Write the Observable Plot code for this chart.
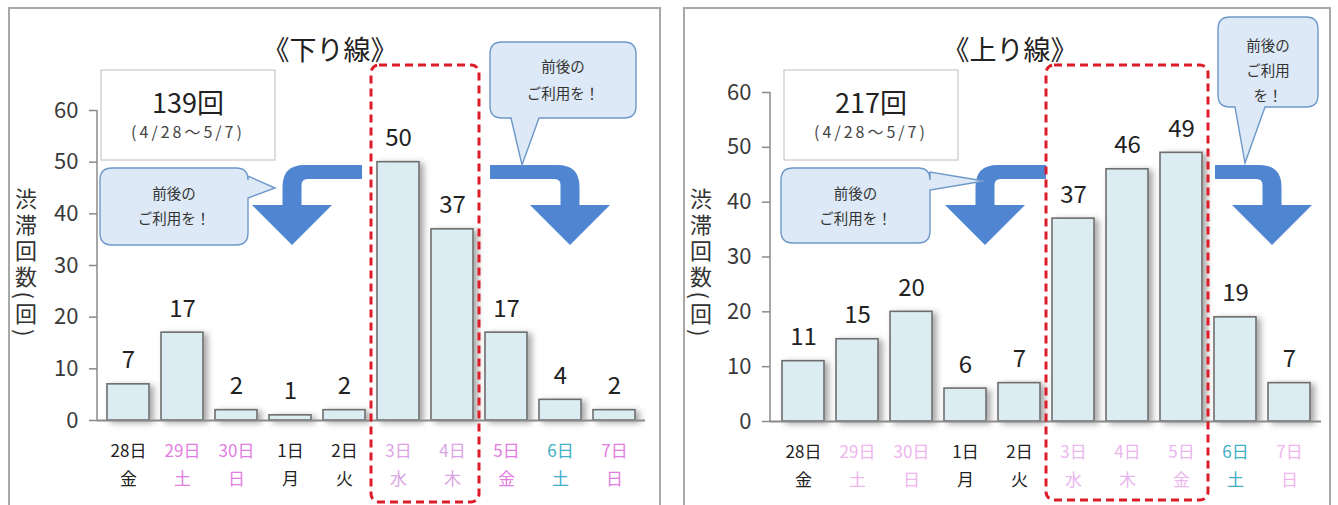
<!DOCTYPE html>
<html><head><meta charset="utf-8">
<script src="https://cdn.jsdelivr.net/npm/d3@7"></script>
<script src="https://cdn.jsdelivr.net/npm/@observablehq/plot@0.6"></script>
<style>
body{margin:0;background:#fff;}
#wrap{position:relative;width:1338px;height:505px;overflow:hidden;}
.panel{position:absolute;border:2px solid #a8a8a8;box-sizing:border-box;background:#fff;}
.chart{position:absolute;top:0;}
</style></head><body><div id="wrap"></div>
<script>
const FONT = '"Noto Sans CJK JP", "Noto Sans", sans-serif';
// ---- data ----
const days = ["28日","29日","30日","1日","2日","3日","4日","5日","6日","7日"];
const weekdays = ["金","土","日","月","火","水","木","金","土","日"];
const downCounts = [7,17,2,1,2,50,37,17,4,2];
const upCounts = [11,15,20,6,7,37,46,49,19,7];
const downDayColors = ["#222","#e27ee0","#e27ee0","#222","#222","#dba4e4","#dba4e4","#e27ee0","#3fb1c6","#e27ee0"];
const upDayColors = ["#222","#f0b4ee","#f0b4ee","#222","#222","#eab6ee","#eab6ee","#eab6ee","#3fb1c6","#f0b4ee"];
const yTicks = [0,10,20,30,40,50,60];
const downTitle = "《下り線》", upTitle = "《上り線》";
const downTotal = "139回", upTotal = "217回";
const period = "(4/28～5/7)";
const yLabel = "渋滞回数(回)";
const downCalloutLines = [["前後の","ご利用を！"],["前後の","ご利用を！"]];
const upCalloutLines = [["前後の","ご利用を！"],["前後の","ご利用","を！"]];
const downPeak = [5,6];   // indices of highlighted days
const upPeak = [5,7];

const wrap = d3.select("#wrap");
wrap.append("div").attr("class","panel").style("left","8px").style("top","7px").style("width","653px").style("height","520px");
wrap.append("div").attr("class","panel").style("left","683px").style("top","7px").style("width","648px").style("height","520px");

function calloutPath(x,y,w,h,r,p){
  let d = `M${x+r},${y} H${x+w-r} Q${x+w},${y} ${x+w},${y+r}`;
  if(p.side==="right") d += ` V${p.a} L${p.tx},${p.ty} L${x+w},${p.b}`;
  d += ` V${y+h-r} Q${x+w},${y+h} ${x+w-r},${y+h}`;
  if(p.side==="bottom") d += ` H${p.b} L${p.tx},${p.ty} L${p.a},${y+h}`;
  d += ` H${x+r} Q${x},${y+h} ${x},${y+h-r} V${y+r} Q${x},${y} ${x+r},${y} Z`;
  return d;
}
function arrowPath(start, c, s){
  const top=165, bot=179, hw=9.5, headY=205, tipY=245, headHalf=40, R=22, r2=6;
  const outer = c + s*hw, inner = c - s*hw;
  return `M${start},${top} H${outer - s*R} Q${outer},${top} ${outer},${top+R} V${headY} H${c + s*headHalf} L${c},${tipY} L${c - s*headHalf},${headY} H${inner} V${bot + r2} Q${inner},${bot} ${inner - s*r2},${bot} H${start} Z`;
}

function panel(cfg){
  const rows = days.map((d,i)=>({day:d, wd:weekdays[i], count:cfg.counts[i], color:cfg.colors[i]}));
  const svgEl = Plot.plot({
    width: 669, height: 505,
    marginLeft: cfg.ml, marginRight: cfg.mr, marginTop: cfg.mt, marginBottom: cfg.mb,
    x: {type:"band", domain: days, paddingInner: 0.23, paddingOuter: cfg.po, axis: null},
    y: {domain:[0,60], axis: null},
    color: {type:"identity"},
    style: {fontFamily: FONT, background: "transparent", overflow: "visible"},
    marks: [
      Plot.axisY({ticks: yTicks, tickSize: 8, tickPadding: 11, fontSize: 22, stroke:"#8a8a8a", strokeWidth:1.5, fill:"#3a3a3a", label:null}),
      Plot.barY(rows, {x:"day", y:"count", fill:"#dbedf3", stroke:"#6e6e6e", strokeWidth:1.6}),
      Plot.ruleY([0], {stroke:"#8a8a8a", strokeWidth:2}),
      Plot.text(rows, {x:"day", y:"count", text:d=>String(d.count), lineAnchor:"bottom", dy:-16, fontSize:24, fill:"#222"}),
      Plot.text(rows, {x:"day", y:0, text:d=>d.day+"\n"+d.wd, lineAnchor:"top", dy:17, fontSize:17, lineHeight:1.65, fill:"color"})
    ]
  });
  const svg = d3.select(svgEl);
  const xs = svgEl.scale("x"), ys = svgEl.scale("y");
  const bw = xs.bandwidth;
  // shadow
  const fid = "sh"+cfg.id;
  svg.append("defs").append("filter").attr("id",fid).attr("x","-20%").attr("y","-10%").attr("width","160%").attr("height","130%")
    .append("feDropShadow").attr("dx",4).attr("dy",2).attr("stdDeviation",3).attr("flood-color","#000").attr("flood-opacity",0.35);
  svg.select('g[aria-label="bar"]').attr("filter",`url(#${fid})`);
  // y axis line
  svg.append("line").attr("x1",cfg.ml).attr("x2",cfg.ml).attr("y1",ys.apply(60)).attr("y2",ys.apply(0)).attr("stroke","#8a8a8a").attr("stroke-width",1.5);
  const g = svg.append("g").style("font-family",FONT);
  // title
  g.append("text").attr("x",cfg.titleX).attr("y",60).attr("text-anchor","middle").attr("font-size",27).attr("fill","#222").text(cfg.title);
  // y label (vertical writing)
  g.append("text").attr("x",cfg.ylabX).attr("y",264).attr("text-anchor","middle").attr("font-size",22).attr("fill","#333")
    .style("writing-mode","vertical-rl").style("letter-spacing","4px").text(yLabel);
  // total box
  g.append("rect").attr("x",cfg.box[0]).attr("y",70).attr("width",174).attr("height",90).attr("fill","#fff").attr("stroke","#c8c8c8").attr("stroke-width",1.2);
  g.append("text").attr("x",cfg.box[0]+87).attr("y",113).attr("text-anchor","middle").attr("font-size",27).attr("font-weight",400).attr("fill","#222").text(cfg.total);
  g.append("text").attr("x",cfg.box[0]+87).attr("y",138).attr("text-anchor","middle").attr("font-size",16).attr("fill","#444").style("letter-spacing","3px").text(period);
  // arrows
  for(const a of cfg.arrows){
    g.append("path").attr("d",arrowPath(a[0],a[1],a[2])).attr("fill","#4f85d1");
  }
  // callouts
  cfg.callouts.forEach((c,i)=>{
    g.append("path").attr("d",calloutPath(c.x,c.y,c.w,c.h,12,c.p)).attr("fill","#dde9f6").attr("stroke","#6d98c9").attr("stroke-width",1.4);
    const lines = cfg.lines[i];
    lines.forEach((t,j)=>{
      g.append("text").attr("x",c.x+c.w/2).attr("y",c.ty + j*c.lh).attr("text-anchor","middle").attr("font-size",14.5).attr("fill","#333").text(t);
    });
  });
  // red dashed highlight
  const rx0 = xs.apply(days[cfg.peak[0]]) - 6, rx1 = xs.apply(days[cfg.peak[1]]) + bw + 6;
  g.append("rect").attr("x",rx0).attr("y",65).attr("width",rx1-rx0).attr("height",cfg.redBottom-65).attr("rx",8)
    .attr("fill","none").attr("stroke","#dd1c2a").attr("stroke-width",3).attr("stroke-dasharray","8,5");
  return svgEl;
}

const left = panel({
  id:"L", counts: downCounts, colors: downDayColors, ml:97, mr:24, mt:110, mb:85, po:0.115,
  title: downTitle, titleX: 330, ylabX: 26, total: downTotal, box:[101], peak: downPeak, redBottom: 502,
  arrows: [[362,292,-1],[490,570,1]],
  callouts: [
    {x:100,y:168,w:148,h:77,ty:199,lh:25,p:{side:"right",a:176,b:198,tx:275,ty:188}},
    {x:490,y:42,w:146,h:76,ty:72,lh:27,p:{side:"bottom",a:511,b:539,tx:522,ty:165}}
  ],
  lines: downCalloutLines
});
const right = panel({
  id:"R", counts: upCounts, colors: upDayColors, ml:101, mr:17, mt:92, mb:84, po:0.16,
  title: upTitle, titleX: 341, ylabX: 32, total: upTotal, box:[115], peak: upPeak, redBottom: 500,
  arrows: [[377,316,-1],[546,603,1]],
  callouts: [
    {x:112,y:168,w:149,h:75,ty:199,lh:25,p:{side:"right",a:172,b:190,tx:315,ty:181}},
    {x:549,y:17,w:100,h:90,ty:51,lh:25,p:{side:"bottom",a:566,b:596,tx:576,ty:163}}
  ],
  lines: upCalloutLines
});
wrap.append(()=>left).attr("class","chart").style("left","0px");
wrap.append(()=>right).attr("class","chart").style("left","669px");
</script></body></html>
